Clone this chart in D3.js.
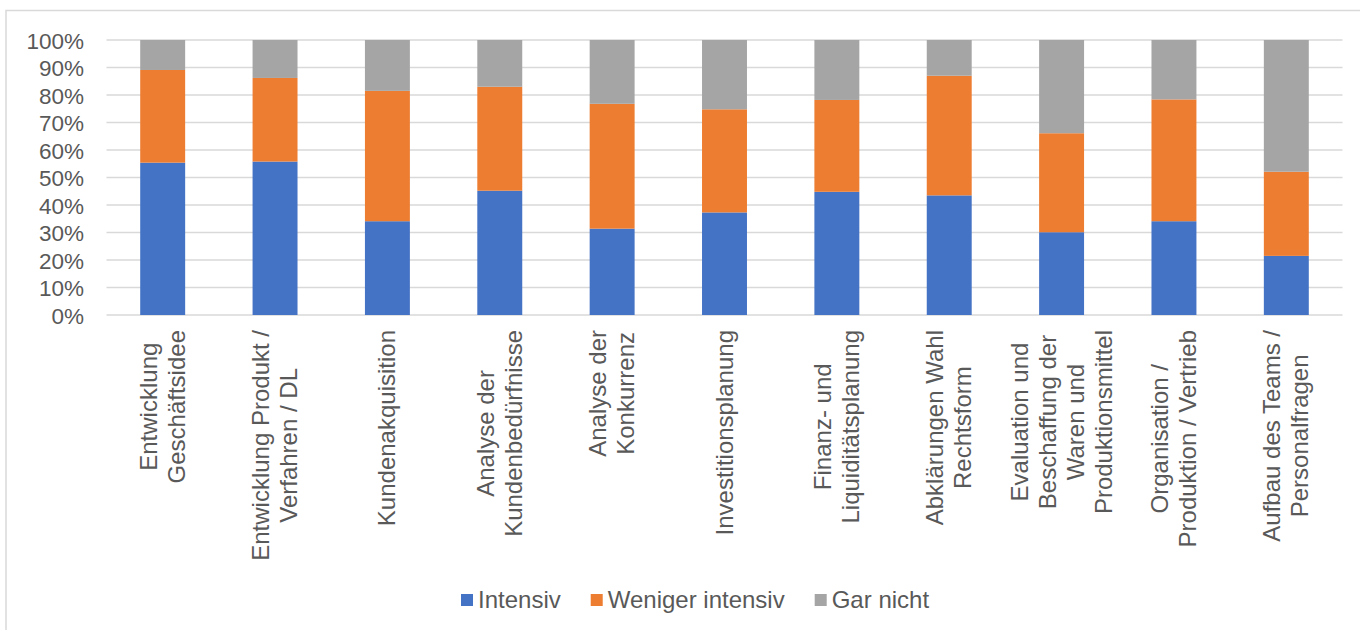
<!DOCTYPE html>
<html>
<head>
<meta charset="utf-8">
<script src="https://cdn.jsdelivr.net/npm/d3@7"></script>
<style>
  html, body { margin: 0; padding: 0; background: #fff; }
  svg { display: block; }
  text { font-family: Arial, "Liberation Sans", sans-serif; fill: #595959; }
</style>
</head>
<body>
<svg id="chart" width="1360" height="630"></svg>
<script>
// Categories (line breaks as shown under each bar)
const categories = [
  ["Entwicklung", "Geschäftsidee"],
  ["Entwicklung Produkt /", "Verfahren / DL"],
  ["Kundenakquisition"],
  ["Analyse der", "Kundenbedürfnisse"],
  ["Analyse der", "Konkurrenz"],
  ["Investitionsplanung"],
  ["Finanz- und", "Liquiditätsplanung"],
  ["Abklärungen Wahl", "Rechtsform"],
  ["Evaluation und", "Beschaffung der", "Waren und", "Produktionsmittel"],
  ["Organisation /", "Produktion / Vertrieb"],
  ["Aufbau des Teams /", "Personalfragen"]
];

// Shares in percent
const intensiv        = [55.4, 55.8, 34.1, 45.2, 31.4, 37.3, 44.8, 43.5, 30.1, 34.1, 21.5];
const wenigerIntensiv = [33.7, 30.4, 47.4, 37.8, 45.4, 37.5, 33.4, 43.5, 36.0, 44.3, 30.6];
const garNicht        = [10.9, 13.8, 18.5, 17.0, 23.2, 25.2, 21.8, 13.0, 33.9, 21.6, 47.9];

const seriesNames = ["Intensiv", "Weniger intensiv", "Gar nicht"];
const seriesColors = ["#4472C4", "#ED7D31", "#A5A5A5"];
const yTicks = [0, 10, 20, 30, 40, 50, 60, 70, 80, 90, 100];

const svg = d3.select("#chart");

// Chart area border (runs off the right and bottom edges)
svg.append("rect")
  .attr("x", 6).attr("y", 10.5)
  .attr("width", 1400).attr("height", 700)
  .attr("fill", "none")
  .attr("stroke", "#d9d9d9")
  .attr("stroke-width", 1.5);

const plot = { left: 106.5, right: 1342.5, top: 40, bottom: 315 };

const keys = categories.map((c, i) => "c" + i);
const x = d3.scaleBand()
  .domain(keys)
  .range([plot.left, plot.right])
  .paddingInner(0.6)
  .paddingOuter(0.3);

const y = d3.scaleLinear()
  .domain([0, 100])
  .range([plot.bottom, plot.top]);

// Gridlines
svg.append("g")
  .selectAll("line")
  .data(yTicks)
  .join("line")
  .attr("x1", plot.left).attr("x2", plot.right)
  .attr("y1", d => y(d)).attr("y2", d => y(d))
  .attr("stroke", "#d9d9d9")
  .attr("stroke-width", 1.5);

// Y axis labels
const yAxis = d3.axisLeft(y)
  .tickValues(yTicks)
  .tickFormat(d => d + "%")
  .tickSize(0)
  .tickPadding(0);
const yg = svg.append("g")
  .attr("transform", `translate(84,0)`)
  .call(yAxis);
yg.select(".domain").remove();
yg.selectAll("text")
  .attr("font-size", 22.5)
  .attr("font-family", "Arial, 'Liberation Sans', sans-serif")
  .attr("fill", "#595959")
  .attr("dy", "0.36em");

// Stacked bars
const rows = keys.map((k, i) => ({
  key: k,
  "Intensiv": intensiv[i],
  "Weniger intensiv": wenigerIntensiv[i],
  "Gar nicht": garNicht[i]
}));
const stacked = d3.stack().keys(seriesNames)(rows);

svg.append("g")
  .selectAll("g")
  .data(stacked)
  .join("g")
  .attr("fill", (d, i) => seriesColors[i])
  .selectAll("rect")
  .data(d => d)
  .join("rect")
  .attr("x", d => x(d.data.key))
  .attr("width", x.bandwidth())
  .attr("y", d => y(d[1]))
  .attr("height", d => y(d[0]) - y(d[1]));

// Rotated category labels, lines centred on each other, block starts below the axis
const labelTop = 330;
const lineGap = 28;
const lg = svg.append("g");
categories.forEach((lines, i) => {
  const cx = x(keys[i]) + x.bandwidth() / 2;
  const g = lg.append("g")
    .attr("transform", `translate(${cx},${labelTop}) rotate(-90)`);
  const texts = lines.map((line, j) =>
    g.append("text")
      .attr("font-size", 24)
      .attr("text-anchor", "middle")
      .attr("y", (j - (lines.length - 1) / 2) * lineGap + 8)
      .text(line)
  );
  const maxLen = d3.max(texts, t => t.node().getComputedTextLength());
  texts.forEach(t => t.attr("x", -maxLen / 2));
});

// Legend
const legend = svg.append("g");
let lx = 461;
seriesNames.forEach((name, i) => {
  legend.append("rect")
    .attr("x", lx).attr("y", 594)
    .attr("width", 12).attr("height", 12)
    .attr("fill", seriesColors[i]);
  const t = legend.append("text")
    .attr("x", lx + 17).attr("y", 607.5)
    .attr("font-size", 24)
    .text(name);
  lx += 17 + t.node().getComputedTextLength() + 30;
});
</script>
</body>
</html>
